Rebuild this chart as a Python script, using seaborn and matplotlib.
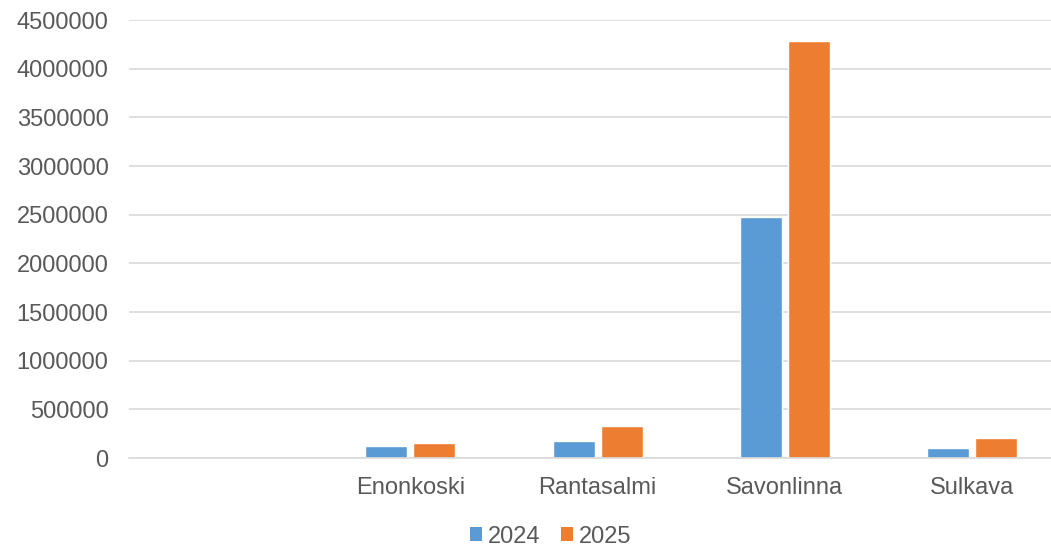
import matplotlib
matplotlib.use("Agg")
import matplotlib.pyplot as plt
import seaborn as sns
import pandas as pd
from matplotlib.ticker import FuncFormatter, MultipleLocator
from matplotlib.patches import Patch

categories = ["", "Enonkoski", "Rantasalmi", "Savonlinna", "Sulkava"]
years = ["2024", "2025"]
values_2024 = [0, 120000, 171000, 2476000, 103000]
values_2025 = [0, 152000, 329000, 4285000, 206000]
colors = ["#5B9BD5", "#ED7D31"]

df = pd.DataFrame({
    "category": categories * 2,
    "year": [years[0]] * len(categories) + [years[1]] * len(categories),
    "value": values_2024 + values_2025,
})

sns.set_theme(style="white")
plt.rcParams["font.family"] = ["Liberation Sans", "DejaVu Sans"]

fig = plt.figure(figsize=(10.51, 5.48), dpi=100)
ax = fig.add_axes([0.1231, 0.1642, 0.891, 0.7993])

sns.barplot(data=df, x="category", y="value", hue="year", order=categories,
            hue_order=years, palette=colors, width=0.511, gap=0.122,
            saturation=1, ax=ax, legend=False)

ax.set_xlim(-0.5, len(categories) - 0.5)
ax.set_ylim(0, 4500000)
ax.yaxis.set_major_locator(MultipleLocator(500000))
ax.yaxis.set_major_formatter(FuncFormatter(lambda v, p: f"{int(v)}"))
ax.grid(axis="y", color="#d9d9d9", linewidth=1.2)
ax.set_axisbelow(True)
for s in ["top", "right", "left"]:
    ax.spines[s].set_visible(False)
ax.spines["bottom"].set_color("#d9d9d9")
ax.spines["bottom"].set_linewidth(1.2)
ax.set_xlabel("")
ax.set_ylabel("")
ax.tick_params(axis="both", length=0, labelsize=17, labelcolor="#595959")
ax.tick_params(axis="y", pad=15)
ax.tick_params(axis="x", pad=14)

handles = [Patch(facecolor=c, edgecolor="none") for c in colors]
fig.legend(handles, years, loc="lower center", bbox_to_anchor=(0.524, -0.038),
           ncol=2, frameon=False, fontsize=17, handlelength=0.5, handleheight=0.5,
           handletextpad=0.25, columnspacing=0.85, labelcolor="#595959")

fig.savefig("out.png", dpi=100)
